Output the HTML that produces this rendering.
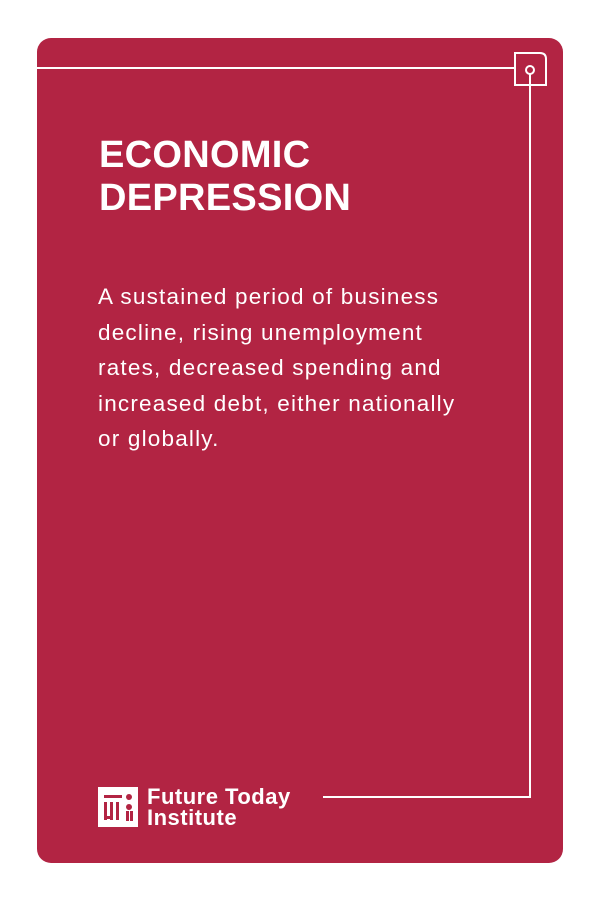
<!DOCTYPE html>
<html><head><meta charset="utf-8"><style>
body{margin:0;width:600px;height:900px;background:#fff;position:relative;font-family:"Liberation Sans",sans-serif;overflow:hidden}
.card{position:absolute;left:37px;top:38px;width:526px;height:825px;background:#B22443;border-radius:14px}
.t{position:absolute;color:#fff;white-space:nowrap}
</style></head><body>
<div class="card"></div>
<svg width="600" height="900" style="position:absolute;left:0;top:0">
<g fill="none" stroke="#fff" stroke-width="2">
<line x1="37" y1="68" x2="515" y2="68"/>
<path d="M515 53 H540 Q546 53 546 59 V85 H515 Z"/>
<circle cx="530" cy="70" r="4"/>
<path d="M530 74 V797 H323"/>
</g>
</svg>
<div class="t" style="left:99px;top:134px;font-size:38px;font-weight:bold;line-height:43px;letter-spacing:0.3px">ECONOMIC<br>DEPRESSION</div>
<div class="t" style="left:98px;top:279px;font-size:22.5px;line-height:35.5px;letter-spacing:1.2px">A sustained period of business<br>decline, rising unemployment<br>rates, decreased spending and<br>increased debt, either nationally<br>or globally.</div>
<svg width="42" height="42" style="position:absolute;left:97px;top:786px">
<rect x="1" y="1" width="40" height="40" fill="#fff"/>
<g fill="#B22443">
<rect x="7" y="9" width="18" height="3"/><circle cx="32" cy="11" r="3"/>
<rect x="7" y="16" width="3" height="18"/><rect x="13" y="16" width="3" height="18"/><rect x="19" y="16" width="3" height="18"/>
<circle cx="32" cy="21" r="3"/><rect x="29" y="25" width="3" height="10"/><rect x="33" y="25" width="3" height="10"/>
<rect x="7" y="30" width="8" height="3"/>
</g>
</svg>
<div class="t" style="left:147px;top:786px;font-size:22px;font-weight:bold;line-height:21px;letter-spacing:0.5px">Future Today<br>Institute</div>
</body></html>
